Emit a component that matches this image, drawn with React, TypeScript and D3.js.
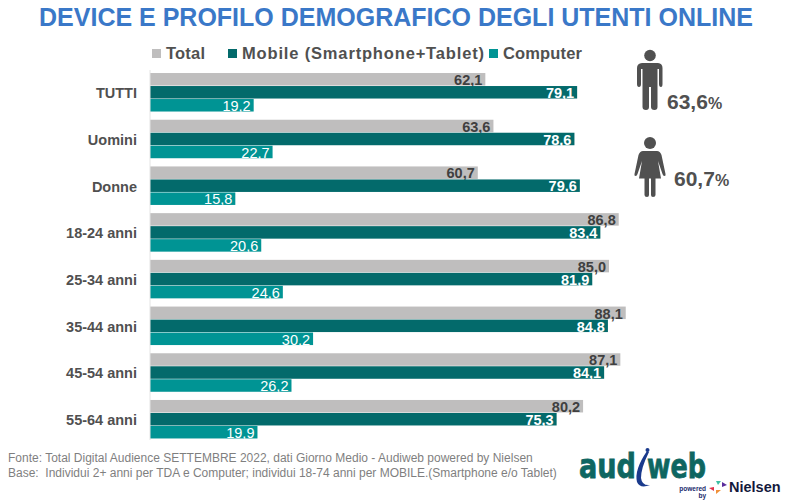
import React, { useEffect, useRef } from 'react';
import * as d3 from 'd3';

const categories = ['TUTTI', 'Uomini', 'Donne', '18-24 anni', '25-34 anni', '35-44 anni', '45-54 anni', '55-64 anni'];
const seriesNames = ['Total', 'Mobile (Smartphone+Tablet)', 'Computer'];
const totalValues = [62.1, 63.6, 60.7, 86.8, 85.0, 88.1, 87.1, 80.2];
const mobileValues = [79.1, 78.6, 79.6, 83.4, 81.9, 84.8, 84.1, 75.3];
const computerValues = [19.2, 22.7, 15.8, 20.6, 24.6, 30.2, 26.2, 19.9];
const colors = ['#bfbebe', '#036a6b', '#009494'];
const labelColors = ['#404040', '#ffffff', '#ffffff'];

const font = '"Liberation Sans", Arial, sans-serif';
const dark = '#505050';

const App = () => {
  const ref = useRef<SVGSVGElement>(null);

  useEffect(() => {
    const svg = d3.select(ref.current);
    svg.selectAll('*').remove();
    svg.style('font-family', font);

    const x = d3.scaleLinear().domain([0, 100]).range([150, 690]);
    const y = d3.scaleBand().domain(categories).range([69.2, 442.8]).paddingInner(0.165).paddingOuter(0.082);
    const inner = d3.scaleBand().domain(seriesNames).range([0, y.bandwidth()]);
    const series = [totalValues, mobileValues, computerValues];

    // Title
    svg.append('text')
      .attr('x', 396).attr('y', 26)
      .attr('text-anchor', 'middle')
      .attr('font-size', 25).attr('font-weight', 'bold')
      .attr('fill', '#3a78c8')
      .text('DEVICE E PROFILO DEMOGRAFICO DEGLI UTENTI ONLINE');

    // Legend
    const legendX = [152, 228, 489];
    const legendWidths = [39, 242, 79];
    seriesNames.forEach((name, i) => {
      svg.append('rect')
        .attr('x', legendX[i]).attr('y', 49).attr('width', 9).attr('height', 9)
        .attr('fill', colors[i]);
      svg.append('text')
        .attr('x', legendX[i] + 14).attr('y', 59)
        .attr('font-size', 16.5).attr('font-weight', 'bold')
        .attr('fill', dark)
        .attr('textLength', legendWidths[i])
        .text(name);
    });

    // Bars
    series.forEach((values, s) => {
      const g = svg.append('g');
      g.selectAll('rect')
        .data(values)
        .enter()
        .append('rect')
        .attr('x', x(0))
        .attr('y', (d, i) => y(categories[i])! + inner(seriesNames[s])!)
        .attr('width', d => x(d) - x(0))
        .attr('height', inner.bandwidth() - 0.5)
        .attr('fill', colors[s]);
      g.selectAll('text')
        .data(values)
        .enter()
        .append('text')
        .attr('x', d => x(d) - 3)
        .attr('y', (d, i) => y(categories[i])! + inner(seriesNames[s])! + inner.bandwidth() - 1)
        .attr('text-anchor', 'end')
        .attr('font-size', 14.5)
        .attr('font-weight', s === 2 ? 'normal' : 'bold')
        .attr('fill', labelColors[s])
        .text(d => d.toFixed(1).replace('.', ','));
    });

    // Axis
    svg.append('line')
      .attr('x1', x(0)).attr('x2', x(0)).attr('y1', 70).attr('y2', 440)
      .attr('stroke', '#e4e4e4');
    const axis = d3.axisLeft(y).tickSize(0).tickPadding(13);
    const axisG = svg.append('g').attr('transform', `translate(${x(0)},1)`).call(axis);
    axisG.select('.domain').remove();
    axisG.selectAll('text')
      .attr('font-family', font)
      .attr('font-size', 14.5)
      .attr('font-weight', 'bold')
      .attr('fill', dark);

    // Man icon
    const man = svg.append('g').attr('fill', dark).attr('stroke', 'none');
    man.append('circle').attr('cx', 650).attr('cy', 55.5).attr('r', 5.8);
    man.append('path').attr('d', 'M642,63 H658 Q662.5,63.5 662.5,68 V84 Q662.5,87 661,87 Q659,87 659,84 V69 L657.5,69 V107 Q657.5,110 654.5,110 Q651,110 651,107 V87 H649 V107 Q649,110 646,110 Q642.5,110 642.5,107 V69 L641,69 V84 Q641,87 639,87 Q637,87 637,84 V68 Q637,63.5 642,63 Z');

    // Woman icon
    const woman = svg.append('g').attr('fill', dark).attr('stroke', 'none');
    woman.append('circle').attr('cx', 650).attr('cy', 143).attr('r', 6);
    woman.append('path').attr('d', 'M643,151 H657 Q660,151 661.5,155 L665.5,174 Q666,176 664.5,176 Q663,176 662.5,174 L658,161 L661,178.5 H655.5 V195 Q655.5,197 653,197 Q651,197 651,195 V178.5 H649 V195 Q649,197 647,197 Q644.5,197 644.5,195 V178.5 H639 L642,161 L637.5,174 Q637,176 635.5,176 Q634,176 634.5,174 L638.5,155 Q640,151 643,151 Z');

    const pct = [['63,6', 667, 109], ['60,7', 674, 186]] as const;
    pct.forEach(([v, px, py]) => {
      const t = svg.append('text')
        .attr('x', px).attr('y', py)
        .attr('font-size', 21).attr('font-weight', 'bold')
        .attr('fill', dark);
      t.append('tspan').text(v);
      t.append('tspan').attr('font-size', 16).text('%');
    });

    // Footnote
    const notes = [
      'Fonte: Total Digital Audience SETTEMBRE 2022, dati Giorno Medio - Audiweb powered by Nielsen',
      'Base:  Individui 2+ anni per TDA e Computer; individui 18-74 anni per MOBILE.(Smartphone e/o Tablet)',
    ];
    notes.forEach((n, i) => {
      svg.append('text')
        .attr('x', 8).attr('y', 462 + i * 15)
        .attr('font-size', 12)
        .attr('fill', '#7f7f7f')
        .style('white-space', 'pre')
        .text(n);
    });

    // Logo
    const logoParts = [['aud', 579, 57], ['web', 647, 59]] as const;
    logoParts.forEach(([part, lx, len]) => {
      svg.append('text')
        .attr('x', lx).attr('y', 477.5)
        .attr('font-size', 33).attr('font-weight', 'bold')
        .attr('font-family', '"DejaVu Sans", sans-serif')
        .attr('fill', '#0e6661')
        .attr('textLength', len).attr('lengthAdjust', 'spacingAndGlyphs')
        .attr('stroke', '#0e6661').attr('stroke-width', 0.8)
        .text(part);
    });
    svg.append('path')
      .attr('d', 'M647,451 Q634,470 637,482 Q640,489 650,485 Q642,486 641,478 Q641,468 649,452 Z')
      .attr('fill', '#1a3a8c');
    svg.append('circle').attr('cx', 647.5).attr('cy', 450).attr('r', 2).attr('fill', '#1a3a8c');
    svg.append('text').attr('x', 706).attr('y', 491).attr('text-anchor', 'end')
      .attr('font-size', 6.5).attr('font-weight', 'bold').attr('fill', '#1a2a6c').text('powered');
    svg.append('text').attr('x', 706).attr('y', 497.5).attr('text-anchor', 'end')
      .attr('font-size', 6.5).attr('font-weight', 'bold').attr('fill', '#1a2a6c').text('by');
    const markers = [
      ['M714,487 L709,488 L714,491 Z', '#e0314b'],
      ['M716,481 H721 L718,485 Z', '#3dbfa5'],
      ['M722,482 L727,485 L722,487 Z', '#5a2d9c'],
      ['M716,490 H721 L716,494 Z', '#f0913a'],
    ];
    markers.forEach(([d, c]) => svg.append('path').attr('d', d).attr('fill', c));
    svg.append('text')
      .attr('x', 729).attr('y', 492)
      .attr('font-size', 14.5).attr('font-weight', 'bold')
      .attr('fill', '#14193c')
      .text('Nielsen');
  }, []);

  return (
    <svg
      ref={ref}
      width={800}
      height={501}
      viewBox="0 0 800 501"
      style={{ position: 'absolute', left: 0, top: 0, background: '#fff' }}
    />
  );
};

export default App;
